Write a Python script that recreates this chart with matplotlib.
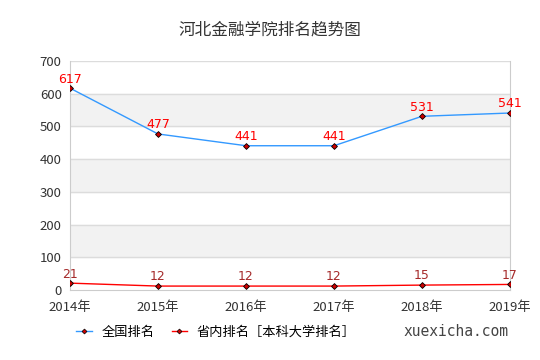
import matplotlib
matplotlib.use('Agg')
import matplotlib.pyplot as plt
from matplotlib.lines import Line2D

plt.rcParams['font.family'] = ['Noto Sans CJK SC', 'DejaVu Sans']

years = ['2014年', '2015年', '2016年', '2017年', '2018年', '2019年']
national = [617, 477, 441, 441, 531, 541]
provincial = [21, 12, 12, 12, 15, 17]
y_ticks = [0, 100, 200, 300, 400, 500, 600, 700]

fig = plt.figure(figsize=(5.4, 3.6), dpi=100)
ax = fig.add_axes([70 / 540, 70 / 360, 440 / 540, 229 / 360])

x = list(range(len(years)))

# alternating bands
for lo in (100, 300, 500):
    ax.axhspan(lo, lo + 100, color='#f2f2f2', zorder=0)
for t in y_ticks[1:]:
    ax.axhline(t, color='#dcdcdc', lw=1, zorder=1)

ax.plot(x, national, color='#3399ff', lw=1, zorder=3)
ax.plot(x, national, ls='none', marker='D', ms=3, mfc='#cc0000', mec='black', mew=0.6, zorder=4)
ax.plot(x, provincial, color='#ff0000', lw=1, zorder=3)
ax.plot(x, provincial, ls='none', marker='D', ms=3, mfc='#cc0000', mec='black', mew=0.6, zorder=4)

for i, v in enumerate(national):
    ax.text(i, v + 8, str(v), color='#ff0000', ha='center', va='bottom',
            fontsize=9, family='DejaVu Sans')
for i, v in enumerate(provincial):
    ax.text(i, v + 8, str(v), color='#a52a2a', ha='center', va='bottom',
            fontsize=9, family='DejaVu Sans')

ax.set_xlim(0, len(years) - 1)
ax.set_ylim(0, 700)
ax.set_yticks(y_ticks)
ax.set_xticks(x)
ax.set_xticklabels(years)
ax.tick_params(axis='both', length=0, colors='#333333', labelsize=9.5)
ax.tick_params(axis='x', pad=8)
ax.tick_params(axis='y', pad=6)
ax.spines['top'].set_visible(False)
for s in ('left', 'bottom', 'right'):
    ax.spines[s].set_color('#cccccc')

fig.text(0.5, 1 - 30 / 360, '河北金融学院排名趋势图', ha='center', va='center',
         fontsize=12, color='#333333')

handles = [
    Line2D([], [], color='#3399ff', lw=1, marker='D', ms=2.5, mfc='#cc0000', mec='black', mew=0.5),
    Line2D([], [], color='#ff0000', lw=1, marker='D', ms=2.5, mfc='#cc0000', mec='black', mew=0.5),
]
fig.legend(handles, ['全国排名', '省内排名［本科大学排名］'], loc='center',
           bbox_to_anchor=(0.40, 1 - 332 / 360), ncol=2, frameon=False,
           fontsize=9.5, handlelength=1.2, handletextpad=0.7, columnspacing=1.3)
fig.text(456 / 540, 1 - 331 / 360, 'xuexicha.com', ha='center', va='center',
         fontsize=10.5, color='#444444', family='DejaVu Sans Mono')

fig.savefig('out.png', dpi=100)
